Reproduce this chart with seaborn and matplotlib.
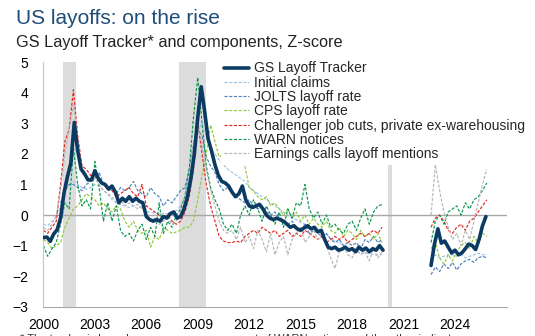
import numpy as np
import matplotlib
matplotlib.use("Agg")
import matplotlib.pyplot as plt
from matplotlib.lines import Line2D
import seaborn as sns

# ---------------- data (Z-scores) ----------------
# GS Layoff Tracker, sampled every 0.2 year
tracker_early_start = 2000.0
tracker_early = [
    -0.74, -0.72, -0.86, -0.62, -0.48,   # 2000
    -0.10, 0.72, 1.25, 1.70, 3.03,       # 2001
    2.10, 1.50, 1.35, 1.15, 1.15,        # 2002
    1.45, 1.20, 1.05, 1.00, 0.85,        # 2003
    0.95, 0.75, 0.40, 0.55, 0.45,        # 2004
    0.60, 0.45, 0.55, 0.45, 0.40,        # 2005
    -0.05, -0.15, -0.20, -0.15, -0.20,   # 2006
    -0.05, -0.10, 0.05, 0.10, -0.10,     # 2007
    -0.05, 0.20, 0.60, 1.20, 2.00,       # 2008
    3.20, 4.20, 3.40, 2.50, 2.10,        # 2009
    1.65, 1.30, 1.10, 1.05, 0.95,        # 2010
    0.75, 0.60, 0.70, 0.95, 0.50,        # 2011
    0.30, 0.25, 0.30, 0.35, 0.20,        # 2012
    0.00, -0.10, -0.15, -0.10, -0.15,    # 2013
    -0.20, -0.30, -0.40, -0.35, -0.45,   # 2014
    -0.50, -0.42, -0.35, -0.45, -0.40,   # 2015
    -0.55, -0.50, -0.80, -1.05, -1.10,   # 2016
    -1.05, -1.15, -1.12, -1.05, -1.15,   # 2017
    -1.10, -1.20, -1.05, -1.15, -1.08,   # 2018
    -1.20, -1.10, -1.15, -1.00, -1.15,   # 2019
]
tracker_late_start = 2022.6
tracker_late = [-1.65, -0.95, -0.45, -0.92, -0.85, -1.05, -1.24, -1.15, -1.30,
                -1.24, -1.10, -0.95, -1.00, -1.13, -0.80, -0.35, -0.05]

# components, sampled quarterly
comp_early_start = 2000.0
comp_late_start = 2022.6
nan = np.nan

claims_early = [
    -0.30, -0.35, -0.20, -0.10, 0.30, 0.80, 1.00, 1.10, 1.00, 0.90, 0.85, 0.90,
    1.00, 0.95, 0.80, 0.70, 0.50, 0.40, 0.35, 0.30, 0.25, 0.30, 0.35, 0.20,
    0.10, 0.10, 0.05, 0.05, 0.05, 0.05, 0.10, 0.15, 0.30, 0.60, 1.20, 2.00,
    2.80, 3.00, 2.60, 2.20, 2.00, 1.80, 1.65, 1.50, 1.40, 1.30, 1.20, 1.10,
    0.90, 0.80, 0.70, 0.60, 0.50, 0.40, 0.30, 0.20, 0.10, 0.00, -0.10, -0.15,
    -0.25, -0.30, -0.35, -0.45, -0.50, -0.55, -0.65, -0.75, -0.85, -0.90, -1.00, -1.10,
    -1.15, -1.20, -1.25, -1.25, -1.25, -1.30, -1.30, -1.30]
claims_late = [-1.45, -1.30, -1.40, -1.35, -1.30, -1.30, -1.35, -1.30, -1.40,
               -1.35, -1.30, -1.25, -1.30, -1.30]

jolts_early = [
    nan, nan, nan, nan, 0.40, 0.80, 1.00, 1.00, 0.90, 0.80, 1.00, 1.10,
    1.20, 1.40, 1.00, 0.90, 0.80, 0.70, 0.90, 0.80, 0.90, 1.10, 0.80, 0.70,
    0.60, 0.90, 0.70, 0.60, 0.30, 0.50, 0.40, 0.60, 0.80, 0.90, 1.50, 2.30,
    2.80, 2.60, 1.90, 1.60, 1.40, 1.00, 0.80, 0.90, 0.70, 0.60, 0.50, 0.40,
    0.50, 0.30, 0.20, 0.30, 0.10, 0.00, 0.10, -0.10, -0.20, -0.30, -0.20, -0.40,
    -0.50, -0.30, -0.60, -0.50, -0.60, -0.70, -0.60, -0.80, -0.90, -0.80, -1.00, -0.90,
    -1.00, -0.90, -1.10, -0.80, -0.90, -0.70, -0.90, -0.80]
jolts_late = [-1.95, -1.70, -1.85, -1.60, -1.75, -1.55, -1.80, -1.60, -1.50,
              -1.45, -1.55, -1.40, -1.35, -1.40]

cps_early = [
    -0.80, -0.90, -1.10, -1.00, -0.90, -0.40, -0.10, 0.20, 0.30, 0.50, 0.70, 0.60,
    0.50, 0.30, 0.40, 0.20, 0.10, 0.30, 0.20, -0.20, -0.40, -0.20, -0.50, -0.60,
    -0.50, -1.05, -0.70, -0.80, -0.40, -0.50, -0.60, -0.55, -0.50, -0.40, -0.40, -0.20,
    0.50, 1.30, 2.00, 2.95, 2.40, 1.90, 2.00, 1.70, 1.90, 1.70, 1.80, 1.60,
    0.90, 0.80, 0.60, 0.50, 0.60, 0.30, 0.40, 0.20, 0.00, 0.20, -0.10, 0.10,
    -0.20, 0.00, -0.30, -0.10, -0.30, -0.40, -0.20, -0.50, -0.60, -0.40, -0.70, -0.50,
    -0.60, -0.80, -0.50, -0.70, -0.60, -0.80, -0.60, -0.90]
cps_late = [-1.10, -0.90, -1.40, -1.60, -1.30, -1.50, -1.20, -1.00, -0.90,
            -1.10, -0.70, -0.90, -0.60, -0.70]

chall_early = [
    -0.50, -0.60, -0.40, -0.20, 1.00, 2.40, 2.80, 4.10, 2.60, 1.60, 1.50, 1.30,
    1.30, 1.10, 1.00, 0.90, 0.80, 0.60, 0.70, 0.80, 0.90, 0.70, 0.60, 1.00,
    0.30, 0.20, 0.10, 0.00, -0.10, 0.00, -0.20, -0.30, -0.20, 0.10, 0.60, 1.50,
    3.05, 2.00, 1.00, 0.30, -0.20, -0.70, -0.85, -0.90, -0.90, -0.85, -0.90, -0.70,
    -0.60, -0.50, -0.60, -0.40, -0.50, -0.60, -0.50, -0.70, -0.60, -0.50, -0.70, -0.60,
    -0.70, -0.50, -0.60, -0.70, -0.80, -0.70, -0.90, -0.80, -0.70, -0.80, -0.70, -0.90,
    -0.80, -0.70, -0.60, -0.70, -0.60, -0.50, -0.60, -0.40]
chall_late = [-0.40, -0.10, 0.00, -0.20, -0.50, -0.60, -0.40, -0.30, -0.50,
              -0.20, -0.10, 0.10, 0.30, 0.50]

warn_early = [
    -1.00, -1.35, -1.10, -0.90, -0.30, 0.40, 0.20, 2.20, 1.00, 0.30, 0.50, 0.20,
    1.75, 0.90, -0.20, 0.40, -0.20, 0.30, -0.50, -0.70, -0.60, -0.85, -0.50, -0.30,
    -0.80, -0.40, -0.70, 0.40, -0.60, -0.20, -0.40, 0.00, 0.20, 0.60, 1.50, 3.20,
    4.50, 3.00, 1.60, 0.90, 0.50, 0.20, -0.30, -0.50, -0.30, -0.60, 0.00, 0.30,
    0.00, 0.50, 0.20, -0.20, 0.30, 0.00, -0.30, 0.10, -0.40, 0.20, -0.10, 0.40,
    0.30, 1.00, 0.20, -0.10, 0.10, -0.30, 0.00, -0.40, -0.30, -0.50, -0.60, -0.30,
    -0.20, -0.50, -0.10, 0.20, -0.30, 0.10, 0.30, 0.35]
warn_late = [-0.90, -0.20, 0.00, -0.30, 0.10, 0.20, 0.30, 0.00, 0.40,
             0.20, 0.50, 0.60, 0.80, 1.05]

earn_early = [
    -0.40, -0.50, -0.30, 0.00, 0.80, 2.00, 2.80, 3.60, 2.50, 1.40, 1.20, 1.10,
    1.20, 1.00, 0.80, 0.70, 0.60, 0.40, 0.50, 0.30, 0.40, 0.30, 0.20, 0.30,
    0.00, -0.20, -0.10, -0.30, -0.20, -0.10, -0.30, -0.20, 0.10, 0.50, 1.20, 2.30,
    2.90, 2.40, 1.50, 0.80, 0.30, -0.20, -0.50, -0.60, -0.50, -0.80, -0.40, -0.90,
    -0.70, -1.10, -0.50, -0.80, -1.20, -0.60, -1.30, -0.90, -0.70, -1.30, -0.80, -0.60,
    -0.40, -0.90, -0.70, -0.50, -0.80, -0.60, -1.00, -1.40, -1.75, -1.20, -1.00, -1.30,
    -1.40, -1.10, -1.30, -1.20, -1.50, -1.10, -1.40, -1.20]
earn_late = [0.00, 1.65, 0.80, 0.10, -0.40, -0.80, -0.60, -1.00, -0.50,
             -0.80, -0.20, 0.40, 1.00, 1.50]

# NBER recessions (start, end) in decimal years
recessions = [(2001 + 2 / 12, 2001 + 11 / 12), (2007 + 11 / 12, 2009 + 6 / 12),
              (2020 + 1 / 12, 2020 + 4 / 12)]

labels = ["GS Layoff Tracker", "Initial claims", "JOLTS layoff rate", "CPS layoff rate",
          "Challenger job cuts, private ex-warehousing", "WARN notices",
          "Earnings calls layoff mentions"]
x_ticks = list(range(2000, 2028, 3))
x_tick_labels = [str(t) for t in range(2000, 2025, 3)] + [""]
y_ticks = list(range(-3, 6))

# ---------------- styling ----------------
sns.set_style("white")
plt.rcParams["font.family"] = ["Liberation Sans", "DejaVu Sans"]

NAVY = "#0B3A62"
comp_colors = ["#9DC3E6", "#4F81BD", "#92C83E", "#E0291F", "#0E9650", "#B5B5B5"]

W, H = 535, 336
fig = plt.figure(figsize=(W / 100, H / 100), dpi=100)
ax_l, ax_r, ax_t, ax_b = 43.4, 506.5, 62.3, 306.7
ax = fig.add_axes([ax_l / W, 1 - ax_b / H, (ax_r - ax_l) / W, (ax_b - ax_t) / H])


def grid(start, step, n):
    return start + step * np.arange(n)


for s, e in recessions:
    ax.axvspan(s, e, color="#DCDCDC", lw=0, zorder=0)
ax.axhline(0, color="#A8A8A8", lw=1.0, zorder=1)

components = [(claims_early, claims_late), (jolts_early, jolts_late),
              (cps_early, cps_late), (chall_early, chall_late),
              (warn_early, warn_late), (earn_early, earn_late)]
dash = (0, (2.6, 1.4))
for (early, late), c in zip(components, comp_colors):
    for start, vals in ((comp_early_start, early), (comp_late_start, late)):
        sns.lineplot(x=grid(start, 0.25, len(vals)), y=np.array(vals, dtype=float),
                     ax=ax, color=c, lw=0.85, linestyle=dash, estimator=None,
                     sort=False, zorder=2)

for start, vals in ((tracker_early_start, tracker_early), (tracker_late_start, tracker_late)):
    sns.lineplot(x=grid(start, 0.2, len(vals)), y=np.array(vals, dtype=float), ax=ax,
                 color=NAVY, lw=2.6, estimator=None, sort=False, zorder=3)

ax.set_xlim(2000, 2027)
ax.set_ylim(-3, 5)
ax.set_xticks(x_ticks)
ax.set_xticklabels(x_tick_labels)
ax.set_yticks(y_ticks)
ax.set_xlabel("")
ax.set_ylabel("")
for sp in ["top", "right"]:
    ax.spines[sp].set_visible(False)
ax.spines["left"].set_color("#C8C8C8")
ax.spines["bottom"].set_color("#A8A8A8")
ax.tick_params(axis="both", direction="out", length=4, width=0.8, color="#A8A8A8",
               labelsize=10, labelcolor="black")
ax.tick_params(axis="y", pad=7)
ax.tick_params(axis="x", pad=4)

handles = [Line2D([], [], color=NAVY, lw=2.6)] + \
          [Line2D([], [], color=c, lw=0.85, linestyle=dash) for c in comp_colors]
leg = ax.legend(handles, labels, loc="upper left", bbox_to_anchor=(221 / W, 1 - 58 / H),
                bbox_transform=fig.transFigure, frameon=True, fancybox=False,
                framealpha=1, facecolor="white", edgecolor="none", fontsize=10,
                handlelength=1.8, handletextpad=0.3, labelspacing=0.02,
                borderpad=0.25, borderaxespad=0)
leg.set_zorder(5)

fig.text(16 / W, 1 - 24 / H, "US layoffs: on the rise", fontsize=15, color="#1F4E79",
         va="baseline", ha="left")
fig.text(16 / W, 1 - 46.5 / H, "GS Layoff Tracker* and components, Z-score",
         fontsize=11.7, color="#222222", va="baseline", ha="left")
fig.text(20 / W, 1 - 342 / H,
         "* The tracker is based on a common component of WARN notices and the other indicators",
         fontsize=8, color="#333333", va="baseline", ha="left")

fig.savefig("out.png", dpi=100)
